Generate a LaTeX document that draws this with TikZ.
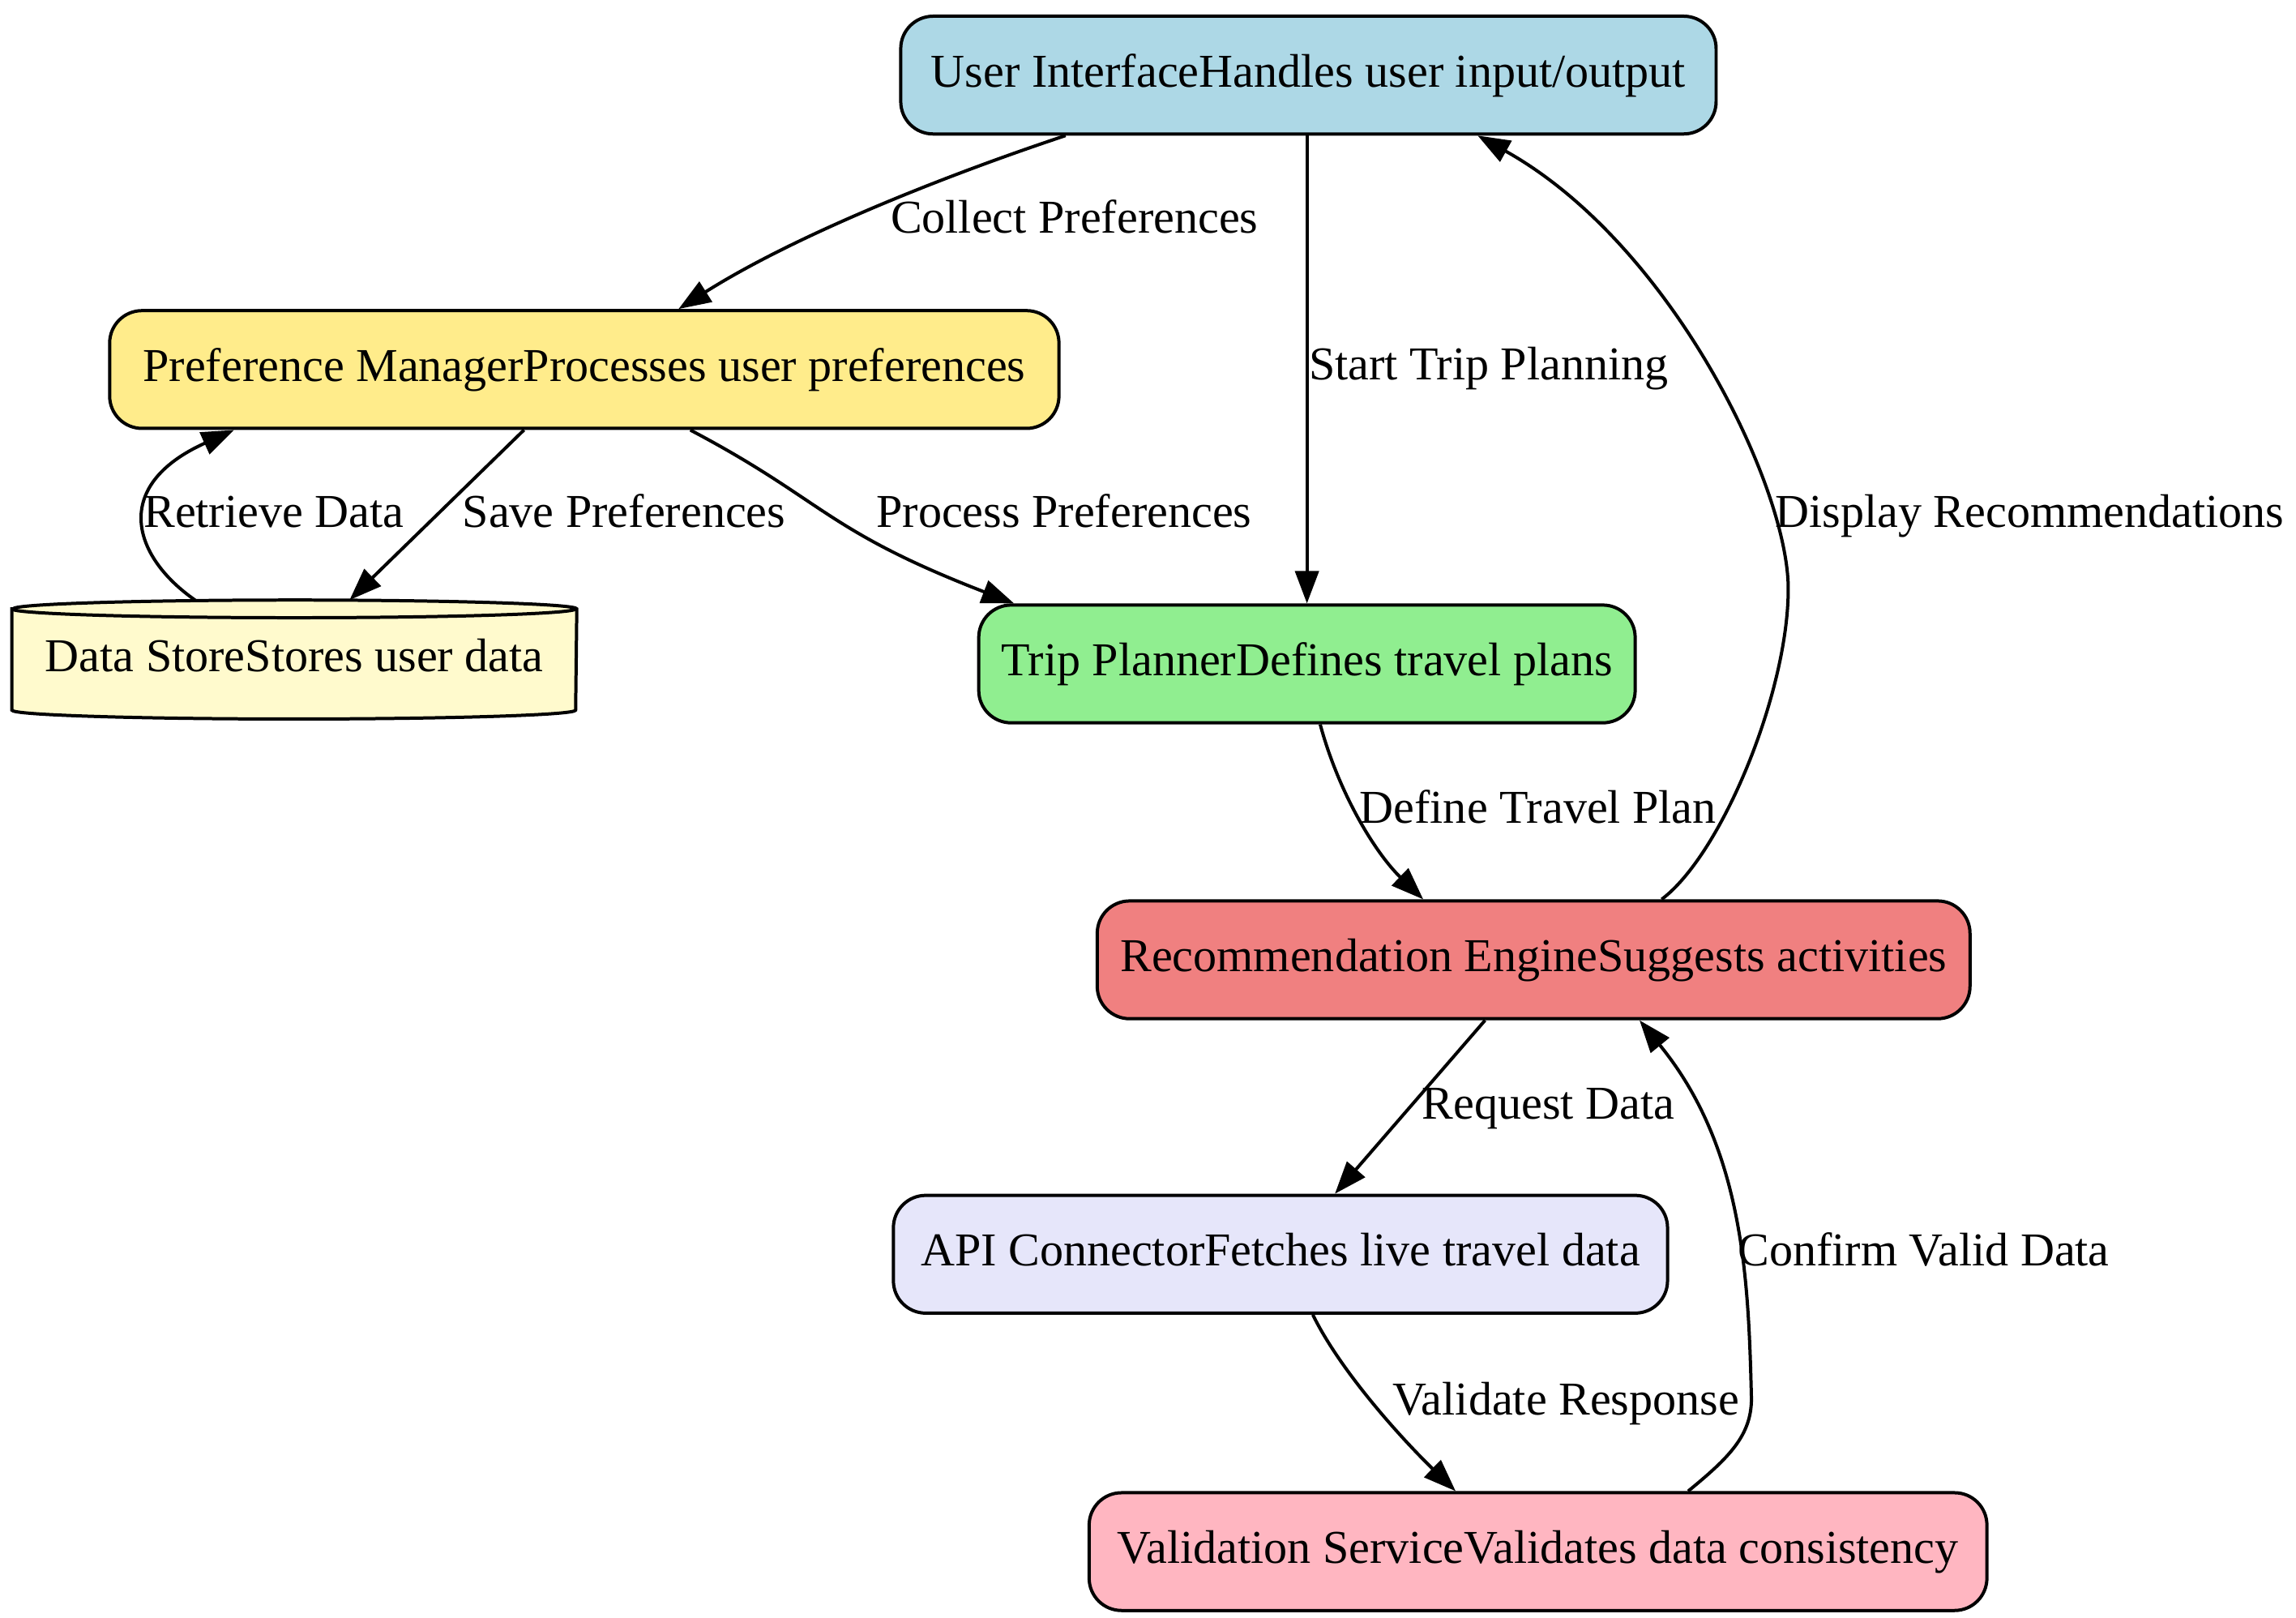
\documentclass[tikz,border=0pt]{standalone}
\usepackage{fontspec}
\setmainfont{Liberation Serif}
\usepackage{xcolor}
\usetikzlibrary{arrows.meta}
\usetikzlibrary{calc}
\usetikzlibrary{backgrounds}

\definecolor{uiblue}{HTML}{ADD8E6}
\definecolor{prefyellow}{HTML}{FFEC8B}
\definecolor{storechiffon}{HTML}{FFFACD}
\definecolor{tripgreen}{HTML}{90EE90}
\definecolor{recocoral}{HTML}{F08080}
\definecolor{apilavender}{HTML}{E6E6FA}
\definecolor{validpink}{HTML}{FFB6C1}

\tikzset{
  box/.style={draw, line width=1.1pt, rounded corners=11pt, minimum height=40pt,
    inner sep=0pt, font=\fontsize{16}{19}\selectfont, text height=2ex, text depth=0.25ex},
  flow/.style={-{Triangle[length=11pt,width=8pt]}, line width=1.1pt},
  lbl/.style={font=\fontsize{16}{19}\selectfont, inner sep=0pt, text height=2ex, text depth=0.25ex},
}

\begin{document}
\begin{tikzpicture}[x=0.5pt,y=0.5pt]
        \useasboundingbox (0,0) rectangle (1560,-1099);

        \node[box, fill=uiblue, minimum width=277pt] (ui) at (889,-51) {User InterfaceHandles user input/output};
        \node[box, fill=prefyellow, minimum width=322.5pt] (pref) at (397,-251) {Preference ManagerProcesses user preferences};
        \node[lbl, minimum width=191.5pt, minimum height=40pt] (store) at (200,-448) {Data StoreStores user data};
        \node[box, fill=tripgreen, minimum width=223pt] (trip) at (888,-451) {Trip PlannerDefines travel plans};
        \node[box, fill=recocoral, minimum width=296.5pt] (reco) at (1042,-652) {Recommendation EngineSuggests activities};
        \node[box, fill=apilavender, minimum width=263pt] (api) at (870,-852) {API ConnectorFetches live travel data};
        \node[box, fill=validpink, minimum width=305pt] (valid) at (1045,-1054) {Validation ServiceValidates data consistency};

        \begin{scope}[on background layer]
          \draw[line width=1.1pt, fill=storechiffon] ([yshift=-3pt]store.north west) -- ([yshift=3pt]store.south west)
            arc[start angle=180, end angle=360, x radius=95.75pt, y radius=3pt] -- ([yshift=-3pt]store.north east)
            arc[start angle=0, end angle=180, x radius=95.75pt, y radius=3pt] -- cycle;
          \draw[line width=1.1pt] ([yshift=-3pt]store.north west) arc[start angle=180, end angle=360, x radius=95.75pt, y radius=3pt];
        \end{scope}

        \draw[flow] ([xshift=-82.5pt]ui.south) .. controls (640,-120) and (540,-160) .. ([xshift=32pt]pref.north);
        \draw[flow] (ui.south -| trip.north) -- (trip.north);
        \draw[flow] ([xshift=43.5pt]reco.north) .. controls (1170,-580) and (1215,-470) .. (1215,-400)
          .. controls (1215,-330) and (1135,-165) .. ([xshift=57.5pt]ui.south);
        \draw[flow] ([xshift=-20.5pt]pref.south) -- ([xshift=18.75pt]store.north);
        \draw[flow] ([xshift=-33.75pt]store.north) .. controls (90,-378) and (75,-330) .. ([xshift=-119pt]pref.south);
        \draw[flow] ([xshift=36pt]pref.south) .. controls (560,-340) and (560,-360) .. ([xshift=-99.5pt]trip.north);
        \draw[flow] ([xshift=4.5pt]trip.south) .. controls (910,-540) and (935,-580) .. ([xshift=-37.5pt]reco.north);
        \draw[flow] ([xshift=-16.5pt]reco.south) -- ([xshift=18.5pt]api.north);
        \draw[flow] ([xshift=11pt]api.south) .. controls (910,-930) and (950,-975) .. ([xshift=-28pt]valid.north);
        \draw[flow] ([xshift=51pt]valid.north) .. controls (1175,-990) and (1190,-975) .. (1190,-950)
          .. controls (1188,-870) and (1185,-780) .. ([xshift=36pt]reco.south);

        \node[lbl] (lcollect) at (730,-150) {Collect Preferences};
        \node[lbl, anchor=west] (lstart) at (889,-250) {Start Trip Planning};
        \node[lbl] (ldisplay) at (1379,-350) {Display Recommendations};
        \node[lbl] (lsave) at (424,-350) {Save Preferences};
        \node[lbl] (lretrieve) at (186,-350) {Retrieve Data};
        \node[lbl] (lprocess) at (723,-350) {Process Preferences};
        \node[lbl] (ldefine) at (1045,-551) {Define Travel Plan};
        \node[lbl] (lrequest) at (1052,-752) {Request Data};
        \node[lbl] (lvalidate) at (1064,-953) {Validate Response};
        \node[lbl] (lconfirm) at (1307,-852) {Confirm Valid Data};
\end{tikzpicture}
\end{document}
